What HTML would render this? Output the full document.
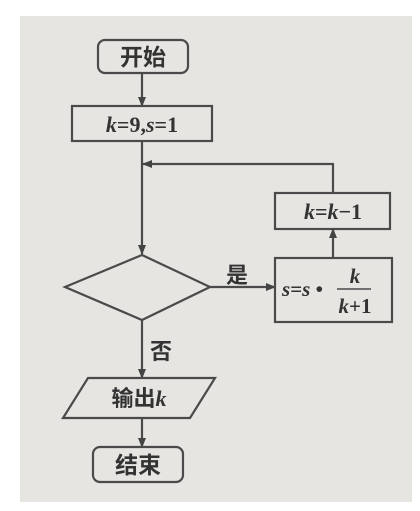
<!DOCTYPE html>
<html><head><meta charset="utf-8"><style>
html,body{margin:0;padding:0;background:#fff;}
svg{display:block}
text{font-family:"Liberation Serif","Noto Serif CJK SC",serif;font-weight:bold;fill:#333}
.cj{font-family:"Liberation Sans","Noto Sans CJK SC",sans-serif;font-weight:bold}
</style></head><body>
<svg width="420" height="511" viewBox="0 0 420 511">
<defs><marker id="a" markerWidth="10" markerHeight="10" refX="9" refY="5" orient="auto" markerUnits="userSpaceOnUse"><path d="M0,1 L10,5 L0,9 Z" fill="#444"/></marker></defs>
<rect x="20" y="16" width="392" height="486" fill="#e7e5e2"/>
<g stroke="#4a4a4a" stroke-width="2.2" fill="none">
<rect x="98" y="40" width="90" height="33" rx="7"/>
<line x1="142" y1="73" x2="142" y2="106" marker-end="url(#a)"/>
<rect x="72" y="106" width="140" height="35"/>
<line x1="142" y1="141" x2="142" y2="254" marker-end="url(#a)"/>
<polyline points="333,193 333,164 143,164" marker-end="url(#a)"/>
<rect x="275" y="193" width="115" height="36"/>
<line x1="333" y1="258" x2="333" y2="229" marker-end="url(#a)"/>
<polygon points="142,255 210,287 142,320 65,287"/>
<line x1="210" y1="287" x2="275" y2="287" marker-end="url(#a)"/>
<rect x="275" y="258" width="117" height="64"/>
<line x1="142" y1="320" x2="142" y2="378" marker-end="url(#a)"/>
<polygon points="88,378 215,378 190,418 63,418"/>
<line x1="142" y1="418" x2="142" y2="447" marker-end="url(#a)"/>
<rect x="93" y="447" width="90" height="35" rx="7"/>
<line x1="337" y1="289" x2="371" y2="289" stroke-width="1.6"/>
</g>
<text class="cj" x="143" y="65" font-size="23" text-anchor="middle">开始</text>
<text x="142" y="132" font-size="22" text-anchor="middle"><tspan font-style="italic">k</tspan>=9,<tspan font-style="italic">s</tspan>=1</text>
<text x="333" y="219" font-size="22" text-anchor="middle"><tspan font-style="italic">k</tspan>=<tspan font-style="italic">k</tspan>−1</text>
<text class="cj" x="237" y="283" font-size="22" text-anchor="middle">是</text>
<text x="282" y="296" font-size="21"><tspan font-style="italic">s</tspan>=<tspan font-style="italic">s</tspan> •</text>
<text x="355" y="283" font-size="21" text-anchor="middle" font-style="italic">k</text>
<text x="355" y="313" font-size="21" text-anchor="middle"><tspan font-style="italic">k</tspan>+1</text>
<text class="cj" x="161" y="359" font-size="22" text-anchor="middle">否</text>
<text class="cj" x="139" y="406" font-size="22" text-anchor="middle">输出<tspan font-family="Liberation Serif" font-style="italic">k</tspan></text>
<text class="cj" x="138" y="473" font-size="23" text-anchor="middle">结束</text>
</svg>
</body></html>
